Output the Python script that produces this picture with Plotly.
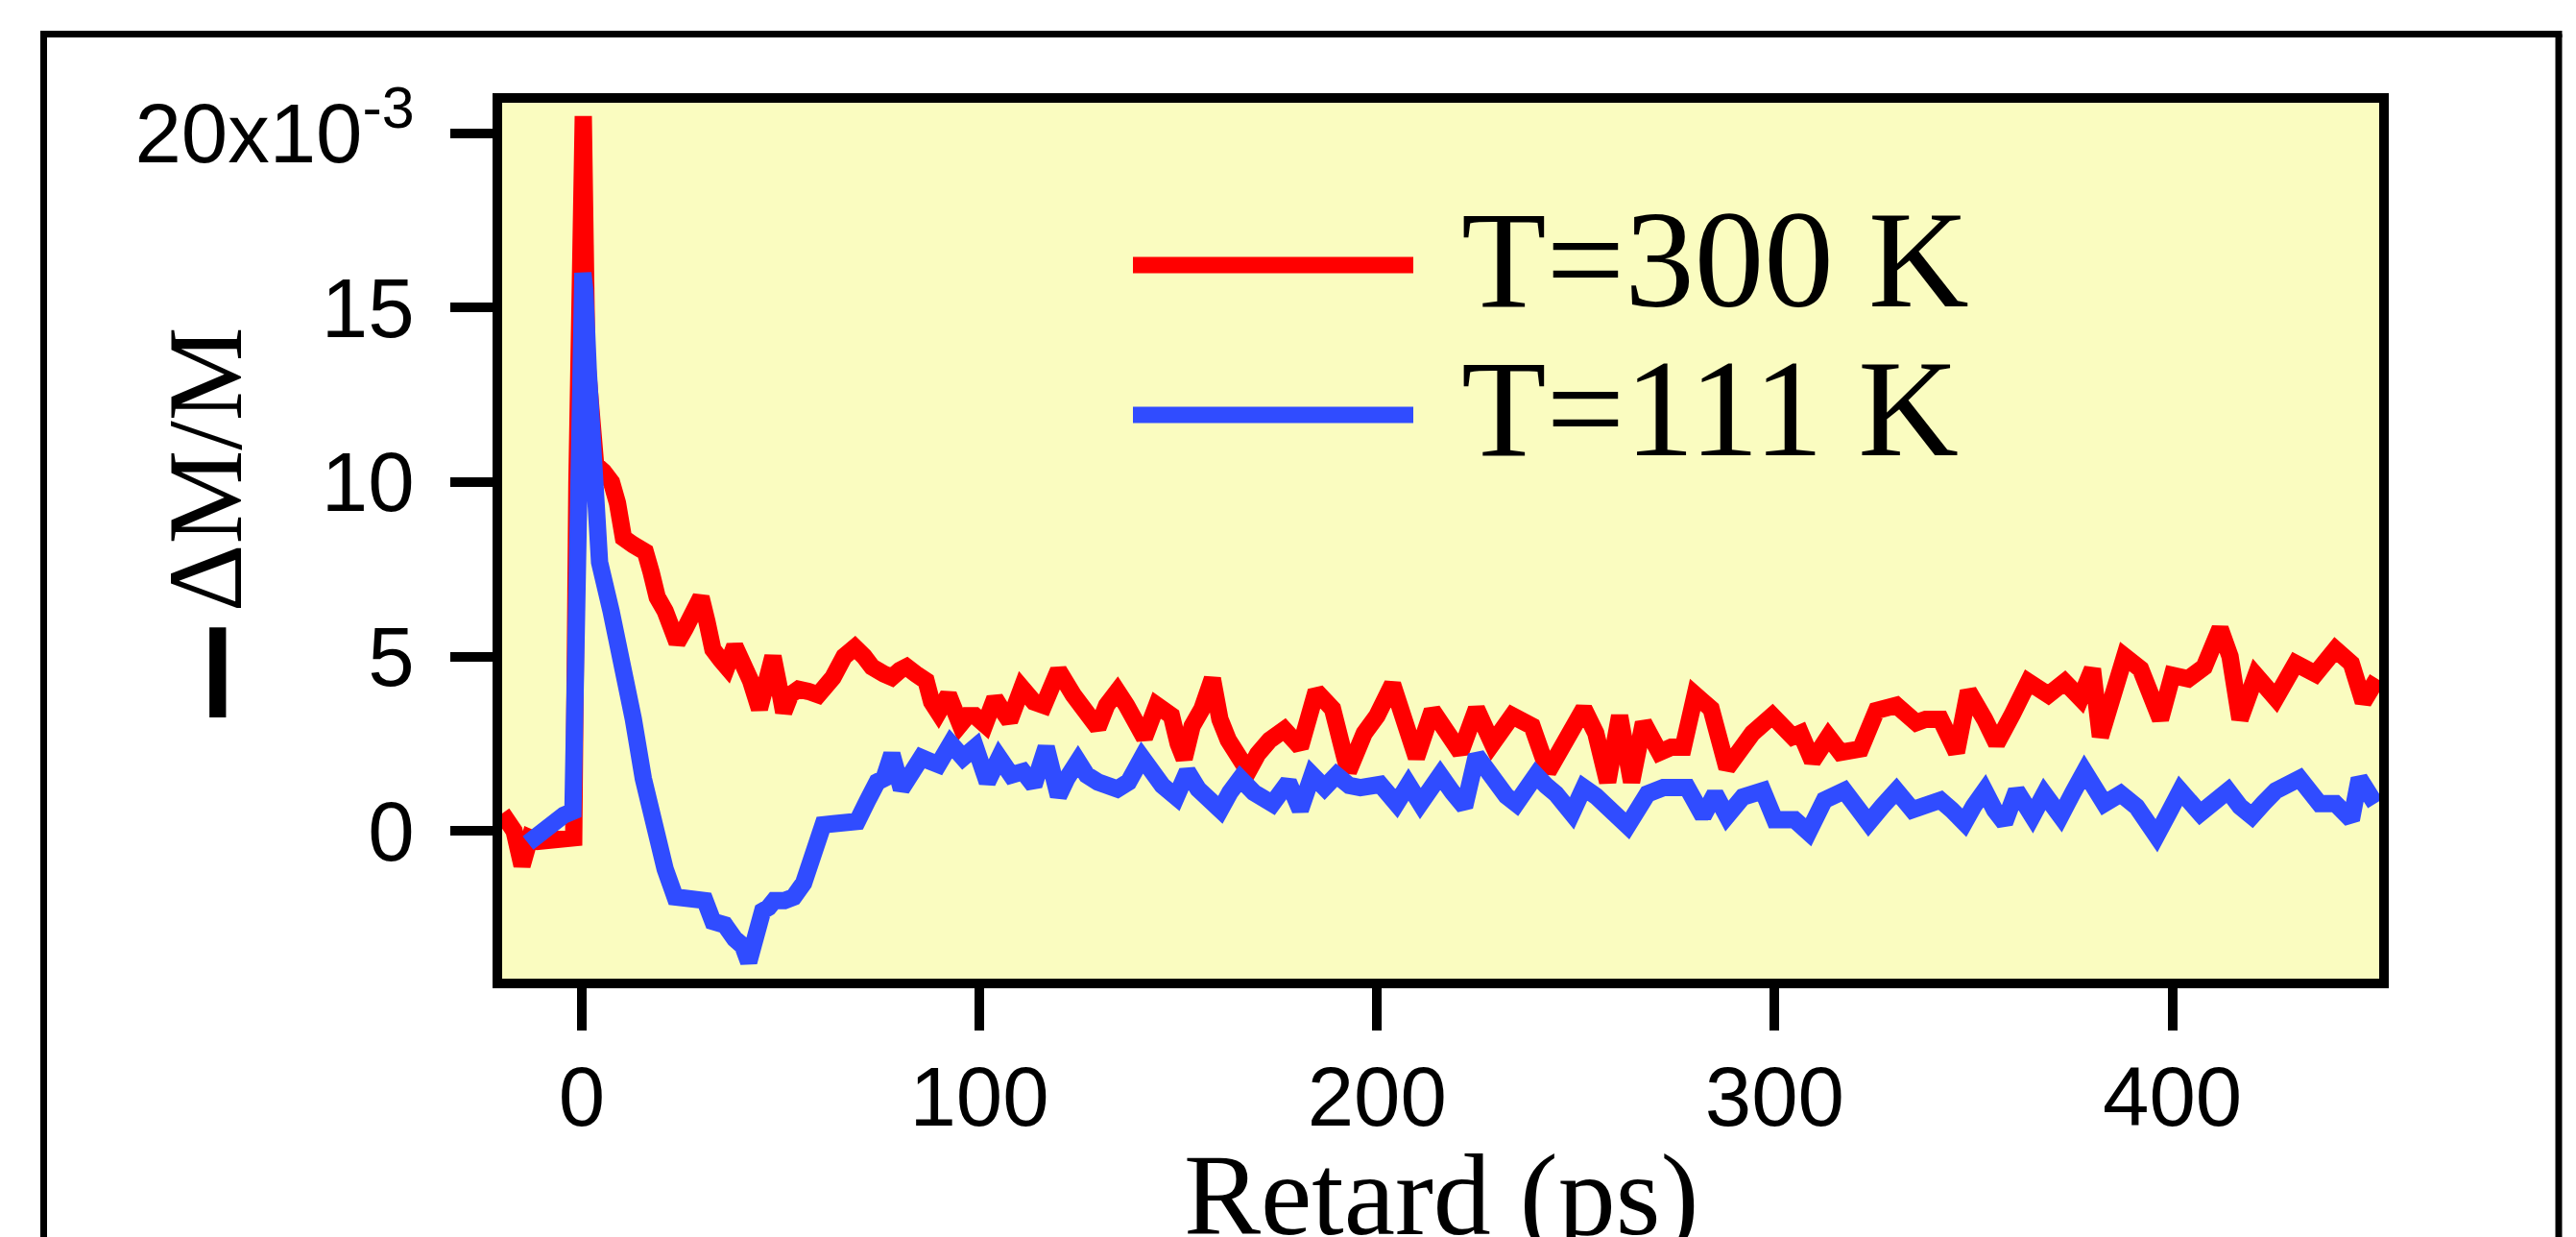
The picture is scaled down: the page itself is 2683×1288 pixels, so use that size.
import plotly.graph_objects as go

# ---------------- data (values in units of 1e-3) ----------------
delay_300K = [-20, -17, -15, -13, -11, -8, -5, -3, -2.0, -1.2, 0.4, 1.3, 2.4, 3.5, 5.5, 7.5, 9, 10.5,
              13, 16, 17.5, 19, 21, 22.5, 24, 26, 28, 30, 31.5, 33, 35, 36.5, 38.5, 40.5, 42.5, 44.7,
              46.5, 48.1, 49.5, 50.8, 52.5, 54.5, 57, 59.5, 61, 63.2, 66, 68.7, 71, 73, 76, 78, 80,
              81.7, 84, 86.6, 88, 89.7, 92.2, 95.2, 97, 98.9, 101.4, 103.9, 105.5, 107.6, 110.7,
              113.7, 116.2, 119.9, 123.6, 126, 128.5, 129.8, 132, 134.7, 137, 139.6, 141.5, 144.6,
              148.3, 150, 151.5, 153.5, 156, 158.6, 160.5, 162.6, 165, 167.6, 170, 173, 176.7, 180.7,
              184.7, 188.8, 190.8, 192.8, 196.8, 200, 203.9, 206, 209.9, 213.9, 217, 221, 225, 229,
              234, 239, 243, 247, 252, 255, 258, 261, 264, 267, 271, 274, 277, 280, 284, 288, 291,
              294.4, 299.4, 304.5, 306.5, 309.5, 313.5, 316.5, 321.6, 325.6, 330.6, 335.6, 338,
              341.7, 345.7, 348.7, 352.8, 355.8, 359.8, 363.8, 368.8, 372.9, 376.9, 379.9, 381.9,
              385, 388, 392, 397, 400, 404, 408, 412, 414.5, 417, 421, 426, 431, 436, 441, 445, 448,
              451.5]
signal_300K = [0.5, 0.0, -1.0, -0.2, -0.3, -0.3, -0.3, -0.2, -0.2, 10.0, 20.5, 13.5, 11.5, 10.5, 10.3,
               10.0, 9.4, 8.4, 8.2, 8.0, 7.4, 6.7, 6.3, 5.8, 5.4, 5.8, 6.3, 6.7, 6.0, 5.2, 4.9, 4.7,
               5.3, 4.9, 4.3, 3.5, 4.2, 5.0, 4.2, 3.4, 3.9, 4.06, 4.0, 3.9, 4.1, 4.4, 5.0, 5.26, 5.0,
               4.7, 4.5, 4.4, 4.6, 4.7, 4.5, 4.3, 3.7, 3.4, 3.9, 3.05, 3.3, 3.3, 3.05, 3.8, 3.5, 3.15,
               4.1, 3.7, 3.6, 4.6, 3.9, 3.6, 3.3, 2.96, 3.6, 4.0, 3.6, 3.15, 2.67, 3.6, 3.3, 2.5,
               2.07, 3.0, 3.5, 4.36, 3.2, 2.6, 2.1, 1.7, 2.2, 2.6, 2.9, 2.4, 4.0, 3.5, 2.6, 1.7, 2.8,
               3.3, 4.2, 3.5, 2.1, 3.45, 3.0, 2.25, 3.5, 2.5, 3.3, 3.0, 1.7, 2.6, 3.5, 2.8, 1.4, 3.3,
               1.4, 3.1, 2.25, 2.4, 2.4, 3.9, 3.5, 1.8, 2.3, 2.8, 3.3, 2.7, 2.8, 2.0, 2.7, 2.25, 2.35,
               3.45, 3.6, 3.1, 3.2, 3.2, 2.25, 4.0, 3.2, 2.5, 3.35, 4.27, 3.9, 4.27, 3.8, 4.64, 2.7,
               3.9, 5.0, 4.64, 3.2, 4.46, 4.36, 4.7, 5.8, 5.0, 3.2, 4.46, 3.8, 4.8, 4.5, 5.2, 4.8, 3.7,
               4.36]

delay_111K = [-13.5, -10, -7, -4.5, -2.2, -1.5, -0.8, 0.3, 0.8, 1.7, 2.4, 3.4, 4.5, 7.4, 10.5, 13, 15.5,
              18, 21, 23.5, 27, 31, 33, 36, 38.5, 40.5, 42, 44, 45.5, 47, 48.4, 51, 53.3, 55.8, 58.2,
              60.7, 63.2, 65.6, 69.3, 71.8, 74.3, 76, 78, 80.4, 82.9, 85.4, 87.5, 89.7, 92.8, 95.9,
              99, 102, 105, 108, 111, 113.7, 116.8, 119.9, 122, 124.8, 127, 129.8, 134.7, 137.5,
              140.9, 143.5, 146, 149.5, 152.3, 155, 158, 160.6, 163, 165.6, 169, 173.7, 177.7, 180.7,
              183.7, 186.8, 189.8, 193, 195.8, 200.8, 204.9, 207.9, 210.9, 213.5, 215.9, 219, 222,
              225, 227.5, 230, 232.5, 235, 237.5, 240, 242.5, 245, 249, 252, 255, 258, 263, 265.5,
              268, 272, 278, 282, 285, 288, 292, 297, 300, 305, 308.5, 312.5, 317.5, 320.5, 323.6,
              327, 330.6, 334.6, 338, 341.7, 344.5, 347.7, 350, 352.8, 355.3, 357.8, 360.8, 364.8,
              367.8, 371.9, 375, 377.9, 382.9, 387, 391, 396, 399, 402, 407, 410.5, 414, 417, 420,
              423, 426, 432, 434.5, 437, 441, 445, 447, 451]
signal_111K = [-0.35, 0.0, 0.27, 0.45, 0.56, 5.0, 12.0, 16.0, 15.5, 13.1, 10.9, 8.7, 7.7, 6.3, 4.7, 3.2,
               1.5, 0.1, -1.1, -1.9, -1.9, -2.0, -2.6, -2.7, -3.1, -3.3, -3.76, -3.0, -2.3, -2.2,
               -2.0, -2.0, -1.9, -1.5, -0.5, 0.17, 0.2, 0.27, 0.27, 0.85, 1.4, 1.5, 2.2, 1.2, 1.7,
               2.1, 2.0, 1.9, 2.5, 2.1, 2.4, 1.4, 2.1, 1.6, 1.7, 1.3, 2.4, 1.0, 1.5, 2.0, 1.6, 1.4,
               1.2, 1.4, 2.1, 1.6, 1.3, 0.97, 1.7, 1.2, 0.9, 0.6, 1.1, 1.5, 1.1, 0.78, 1.4, 0.6, 1.6,
               1.24, 1.6, 1.3, 1.24, 1.33, 0.78, 1.33, 0.78, 1.3, 1.6, 1.1, 0.69, 2.16, 1.7, 1.24,
               1.0, 0.78, 1.2, 1.6, 1.3, 1.06, 0.5, 1.24, 1.0, 0.69, 0.14, 0.6, 1.06, 1.24, 1.24,
               0.42, 1.06, 0.42, 0.97, 1.15, 0.32, 0.32, -0.04, 0.88, 1.15, 0.7, 0.23, 0.7, 1.15, 0.6,
               0.8, 0.88, 0.6, 0.23, 0.7, 1.15, 0.6, 0.23, 1.15, 0.42, 1.06, 0.42, 1.1, 1.7, 0.78,
               1.06, 0.69, -0.14, 0.5, 1.15, 0.5, 0.9, 1.15, 0.7, 0.42, 0.8, 1.15, 1.5, 1.1, 0.78,
               0.78, 0.32, 1.5, 0.78]

series_names = ["T=300 K", "T=111 K"]
series_colors = ["#FF0000", "#304CFF"]
y_tick_vals = [0, 5, 10, 15, 20]
y_tick_text = ["0", "5", "10", "15", "20x10<sup>-3</sup>"]
x_tick_vals = [0, 100, 200, 300, 400]
x_tick_text = ["0", "100", "200", "300", "400"]
x_title = "Retard (ps)"
y_title = ("<sub><span style=\"font-family:'DejaVu Sans';font-weight:bold;font-size:150px\">"
           "\u2212</span></sub>\u0394M/M")

# ---------------- layout geometry (pixels, measured on the page) ----------------
W, H = 2683, 1288
OFF = 8                                     # page body margin offset
L, R, T, B = 523 - OFF, 2478 - OFF, 107 - OFF, 1019 - OFF   # inner plot area (figure px)
PW, PH = R - L, B - T


def px(xp):
    """page x pixel -> paper coordinate"""
    return (xp - OFF - L) / PW


def py(yp):
    """page y pixel -> paper coordinate"""
    return (B - (yp - OFF)) / PH


serif = "Liberation Serif, Times New Roman, serif"
sans = "Liberation Sans, Arial, sans-serif"

fig = go.Figure()
for xs, ys, name, col in [(delay_300K, signal_300K, series_names[0], series_colors[0]),
                          (delay_111K, signal_111K, series_names[1], series_colors[1])]:
    fig.add_trace(go.Scatter(x=xs, y=ys, mode="lines", name=name,
                             line=dict(color=col, width=18), showlegend=False))

axis_common = dict(showline=True, linecolor="black", linewidth=10, mirror=True,
                   ticks="outside", ticklen=44, tickwidth=10, tickcolor="black",
                   showgrid=False, zeroline=False, automargin=False,
                   tickfont=dict(family=sans, size=87, color="black"))

fig.update_xaxes(range=[-20, 452], tickvals=x_tick_vals, ticktext=x_tick_text,
                 ticklabelstandoff=-5, **axis_common)
fig.update_yaxes(range=[-4.24, 20.88], tickvals=y_tick_vals, ticktext=y_tick_text,
                 ticklabelstandoff=20, **axis_common)

annotations = [
    # y-axis title (rotated), placed left of the tick labels as in the original
    dict(text=y_title, xref="paper", yref="paper", x=px(222), y=py(552),
         xanchor="center", yanchor="middle", textangle=-90, showarrow=False,
         font=dict(family=serif, size=110, color="black")),
    # x-axis title, running off the bottom edge as in the original
    dict(text=x_title, xref="paper", yref="paper", x=0.5, y=py(1176),
         xanchor="center", yanchor="top", showarrow=False,
         font=dict(family=serif, size=120, color="black")),
]
legend_rows = [(276, 270), (432, 425)]

# outer figure frame: left, top and right edges (the bottom runs off the picture)
frame_l, frame_r, frame_t, frame_b = 45.5, 2665, 35.5, 1310
shapes = [
    dict(type="line", xref="paper", yref="paper", x0=px(frame_l), x1=px(frame_l),
         y0=py(frame_b), y1=py(frame_t), line=dict(color="black", width=7)),
    dict(type="line", xref="paper", yref="paper", x0=px(frame_r), x1=px(frame_r),
         y0=py(frame_b), y1=py(frame_t), line=dict(color="black", width=7)),
    dict(type="line", xref="paper", yref="paper", x0=px(frame_l - 3.5), x1=px(frame_r + 3.5),
         y0=py(frame_t), y1=py(frame_t), line=dict(color="black", width=7)),
]
for (line_y, text_y), name, col in zip(legend_rows, series_names, series_colors):
    shapes.append(dict(type="line", xref="paper", yref="paper", x0=px(1180), x1=px(1472),
                       y0=py(line_y), y1=py(line_y), line=dict(color=col, width=17)))
    annotations.append(dict(text=name, xref="paper", yref="paper", x=px(1520), y=py(text_y),
                            xanchor="left", yanchor="middle", showarrow=False,
                            font=dict(family=serif, size=145, color="black")))

fig.update_layout(width=W, height=H, autosize=False,
                  margin=dict(l=L, r=W - R, t=T, b=H - B, pad=0, autoexpand=False),
                  paper_bgcolor="white", plot_bgcolor="#FAFCC0",
                  showlegend=False, annotations=annotations, shapes=shapes)

fig.write_html("out.html")
